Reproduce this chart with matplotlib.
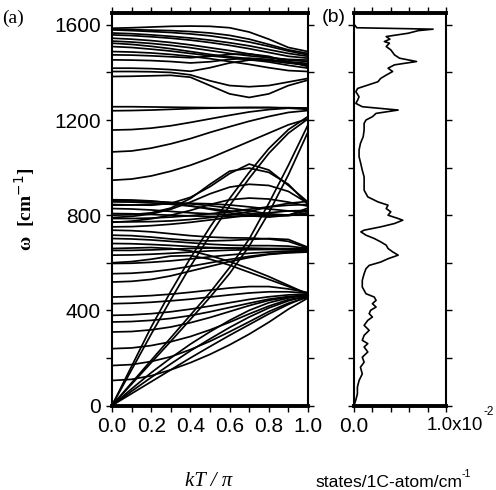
"""
Phonon dispersion (a) and phonon DOS (b) of a carbon nanotube
"""

import matplotlib
matplotlib.use("Agg")
import matplotlib.pyplot as plt
from matplotlib.ticker import MultipleLocator, FixedLocator
from matplotlib.transforms import ScaledTranslation

plt.rcParams["font.family"] = ["Liberation Sans", "DejaVu Sans"]

# k points (kT/pi) at which the branches were read
k_grid = [0.0, 0.1, 0.2, 0.3, 0.4, 0.5, 0.6, 0.7, 0.8, 0.9, 1.0]

# high frequency (1300-1600 cm^-1) branches
top_branches = [
    [1586, 1588, 1591, 1594, 1595, 1594, 1588, 1570, 1540, 1505, 1488],
    [1582, 1580, 1578, 1576, 1572, 1566, 1556, 1540, 1518, 1495, 1480],
    [1579, 1576, 1572, 1568, 1562, 1554, 1542, 1528, 1510, 1490, 1474],
    [1566, 1563, 1558, 1552, 1545, 1536, 1525, 1512, 1496, 1480, 1468],
    [1558, 1555, 1550, 1544, 1536, 1526, 1514, 1500, 1484, 1468, 1460],
    [1544, 1540, 1534, 1526, 1516, 1504, 1492, 1478, 1464, 1452, 1446],
    [1532, 1528, 1522, 1514, 1504, 1492, 1480, 1470, 1462, 1455, 1452],
    [1523, 1518, 1510, 1500, 1488, 1476, 1466, 1458, 1450, 1440, 1432],
    [1509, 1505, 1498, 1490, 1480, 1470, 1462, 1454, 1444, 1430, 1418],
    [1488, 1486, 1482, 1476, 1468, 1458, 1446, 1434, 1420, 1408, 1404],
    [1474, 1473, 1470, 1466, 1462, 1468, 1476, 1478, 1468, 1445, 1425],
    [1453, 1452, 1450, 1446, 1440, 1445, 1455, 1460, 1455, 1445, 1438],
    [1418, 1418, 1416, 1412, 1405, 1420, 1440, 1452, 1450, 1440, 1432],
    [1404, 1404, 1403, 1400, 1390, 1365, 1345, 1340, 1345, 1360, 1375],
    [1383, 1384, 1386, 1388, 1380, 1345, 1310, 1295, 1310, 1345, 1368],
]

# 950-1260 cm^-1 branches rising towards the zone edge
upper_branches = [
    [1256, 1256, 1255, 1254, 1253, 1252, 1252, 1252, 1252, 1252, 1250],
    [1239, 1240, 1242, 1245, 1248, 1250, 1252, 1253, 1253, 1250, 1245],
    [1158, 1160, 1166, 1176, 1190, 1205, 1220, 1234, 1244, 1250, 1250],
    [1066, 1070, 1082, 1100, 1122, 1148, 1172, 1195, 1215, 1232, 1240],
    [947, 952, 965, 985, 1010, 1040, 1075, 1110, 1145, 1180, 1205],
]

# humps between 800 and 1020 cm^-1
hump_branches = [
    [845, 843, 842, 850, 875, 920, 975, 1015, 990, 925, 855],
    [800, 802, 810, 830, 870, 930, 985, 998, 980, 930, 845],
    [790, 795, 805, 825, 855, 890, 918, 930, 925, 900, 850],
    [770, 775, 785, 800, 820, 845, 865, 872, 868, 855, 838],
]

# 750-870 cm^-1 band
band800_branches = [
    [865, 864, 860, 852, 840, 825, 810, 798, 792, 800, 830],
    [860, 860, 858, 854, 848, 840, 830, 818, 806, 800, 820],
    [856, 855, 852, 846, 838, 828, 818, 808, 800, 798, 810],
    [842, 843, 845, 848, 850, 848, 843, 835, 826, 818, 815],
    [828, 826, 822, 816, 810, 806, 803, 800, 798, 800, 800],
    [807, 806, 803, 800, 797, 795, 795, 796, 798, 800, 802],
    [786, 786, 788, 792, 798, 806, 815, 825, 835, 842, 845],
    [772, 772, 773, 776, 782, 790, 800, 815, 835, 850, 858],
    [751, 752, 756, 762, 770, 780, 790, 800, 810, 818, 820],
]

# 500-740 cm^-1 branches converging near 650 cm^-1
mid_branches = [
    [519, 522, 530, 545, 565, 585, 605, 622, 635, 642, 645],
    [554, 556, 562, 572, 585, 600, 614, 627, 637, 643, 647],
    [597, 598, 602, 608, 616, 625, 633, 640, 645, 648, 650],
    [632, 633, 636, 640, 645, 650, 653, 655, 656, 655, 652],
    [652, 652, 654, 657, 660, 662, 662, 660, 658, 656, 655],
    [681, 680, 677, 673, 668, 664, 662, 661, 660, 660, 658],
    [702, 700, 696, 690, 684, 678, 674, 672, 672, 670, 660],
    [716, 714, 708, 700, 694, 692, 694, 698, 702, 698, 665],
    [737, 735, 730, 722, 714, 708, 705, 704, 700, 690, 662],
    [600, 605, 615, 628, 630, 615, 590, 560, 530, 500, 470],
    [660, 662, 664, 660, 650, 630, 605, 575, 542, 505, 468],
]

# low frequency branches converging near 460 cm^-1
low_branches = [
    [105, 110, 125, 150, 180, 215, 255, 300, 350, 405, 452],
    [168, 172, 185, 205, 235, 270, 310, 352, 395, 430, 455],
    [239, 242, 252, 268, 290, 318, 350, 385, 418, 445, 458],
    [309, 311, 318, 330, 348, 370, 395, 420, 442, 456, 462],
    [351, 353, 358, 366, 378, 394, 412, 430, 447, 458, 464],
    [379, 381, 386, 394, 405, 418, 432, 446, 457, 465, 468],
    [428, 430, 434, 440, 447, 456, 465, 473, 478, 478, 472],
    [456, 458, 462, 468, 476, 485, 494, 500, 500, 490, 475],
]

# acoustic branches starting at the origin
acoustic_branches = [
    [0, 50, 100, 150, 200, 248, 295, 340, 385, 425, 460],
    [0, 60, 118, 175, 230, 280, 328, 372, 410, 440, 462],
    [0, 70, 138, 200, 258, 310, 358, 400, 432, 452, 465],
    [0, 165, 330, 480, 620, 750, 870, 980, 1080, 1160, 1215],
    [0, 150, 300, 445, 585, 715, 840, 955, 1060, 1145, 1205],
    [0, 95, 190, 285, 380, 475, 580, 700, 850, 1010, 1180],
    [0, 90, 180, 270, 362, 455, 555, 670, 810, 970, 1150],
]

# density of states: frequency (cm^-1) and value (1e-3 states/1C-atom/cm^-1)
dos_omega = [1598, 1588, 1582, 1576, 1565, 1551, 1540, 1530, 1523, 1509,
             1495, 1474, 1460, 1446, 1432, 1418, 1404, 1389, 1375, 1361,
             1347, 1333, 1319, 1298, 1284, 1270, 1256, 1242, 1228, 1214,
             1200, 1186, 1158, 1130, 1102, 1074, 1046, 1018, 989, 961,
             933, 905, 877, 856, 842, 828, 814, 800, 786, 779,
             765, 751, 737, 730, 716, 702, 688, 674, 660, 646,
             632, 617, 603, 589, 575, 554, 526, 498, 470, 456,
             442, 428, 414, 400, 386, 372, 358, 337, 316, 295,
             274, 260, 246, 225, 203, 182, 161, 133, 105, 77,
             49, 21, 0]
dos_value = [0.1, 0.3, 8.6, 7.0, 5.9, 3.5, 3.9, 3.3, 3.85, 3.5,
             4.0, 4.4, 4.95, 6.8, 4.4, 3.7, 4.2, 3.5, 2.9, 2.6,
             1.5, 0.4, 0.2, 0.55, 0.4, 0.2, 0.9, 4.8, 2.4, 2.0,
             1.3, 1.1, 1.1, 1.0, 0.7, 0.55, 0.55, 0.73, 0.9, 1.1,
             1.1, 1.1, 1.5, 2.6, 3.7, 3.5, 4.0, 3.7, 4.8, 5.3,
             4.4, 2.9, 1.1, 0.75, 1.3, 2.2, 2.9, 3.5, 3.7, 4.2,
             4.8, 3.7, 2.9, 1.65, 1.3, 1.1, 0.9, 0.9, 1.3, 2.2,
             2.4, 2.0, 2.4, 1.8, 1.65, 2.0, 1.5, 1.1, 1.65, 1.1,
             0.9, 1.5, 1.1, 1.5, 0.9, 1.1, 0.7, 0.9, 0.55, 0.37,
             0.37, 0.18, 0.0]


def style_axes(ax):
    ax.tick_params(which="both", direction="out", top=True, right=True,
                   width=1.0, length=4, labelsize=15, pad=4)
    for side in ("left", "right"):
        ax.spines[side].set_linewidth(1.5)
    for side in ("top", "bottom"):
        ax.spines[side].set_linewidth(2.8)


fig = plt.figure(figsize=(4.96, 4.90), dpi=100)
W, H = 496, 490
ax1 = fig.add_axes([112 / W, (H - 405.5) / H, 196 / W, 392.5 / H])
ax2 = fig.add_axes([354 / W, (H - 405.5) / H, 92 / W, 392.5 / H])

groups = [top_branches, upper_branches, hump_branches, band800_branches,
          mid_branches, low_branches, acoustic_branches]
for group in groups:
    for branch in group:
        ax1.plot(k_grid, branch, color="black", lw=1.25, solid_joinstyle="round")

ax1.set_xlim(0, 1)
ax1.set_ylim(0, 1650)
ax1.xaxis.set_major_locator(FixedLocator([0.0, 0.2, 0.4, 0.6, 0.8, 1.0]))
ax1.xaxis.set_minor_locator(MultipleLocator(0.1))
ax1.yaxis.set_major_locator(FixedLocator([0, 400, 800, 1200, 1600]))
ax1.yaxis.set_minor_locator(MultipleLocator(200))
ax1.set_xticklabels(["0.0", "0.2", "0.4", "0.6", "0.8", "1.0"])
ax1.tick_params(axis="y", labelright=False)
style_axes(ax1)

fig.text(209 / W, 1 - 481 / H, "kT / π", fontsize=15, family="Liberation Serif",
         style="italic", ha="center", va="center")
ax1.set_ylabel("ω  [cm$^{-1}$]", fontsize=14, fontweight="bold",
               family="Liberation Serif", labelpad=12)
fig.text(2 / W, 1 - 18 / H, "(a)", fontsize=14, family="Liberation Serif",
         va="center", ha="left")

ax2.plot([v * 1e-3 for v in dos_value], dos_omega, color="black", lw=1.2)
ax2.set_xlim(0, 0.01)
ax2.set_ylim(0, 1650)
ax2.xaxis.set_major_locator(FixedLocator([0.0, 0.01]))
ax2.xaxis.set_minor_locator(MultipleLocator(0.002))
ax2.yaxis.set_major_locator(MultipleLocator(200))
ax2.set_xticklabels(["0.0", "1.0x10"])
ax2.tick_params(axis="y", labelleft=False, labelright=False)
style_axes(ax2)
lbl = ax2.get_xticklabels()[1]
lbl.set_fontsize(13.5)
lbl.set_transform(lbl.get_transform() + ScaledTranslation(0.085, 0, fig.dpi_scale_trans))
fig.text(483 / W, 1 - 412 / H, "-2", fontsize=8.5, ha="left", va="center")

fig.text(315 / W, 1 - 482 / H, "states/1C-atom/cm", fontsize=12.6,
         ha="left", va="center")
fig.text(462 / W, 1 - 474 / H, "-1", fontsize=7.5, ha="left", va="center")
fig.text(322 / W, 1 - 18 / H, "(b)", fontsize=14, va="center", ha="left")

fig.savefig("out.png", dpi=100)
